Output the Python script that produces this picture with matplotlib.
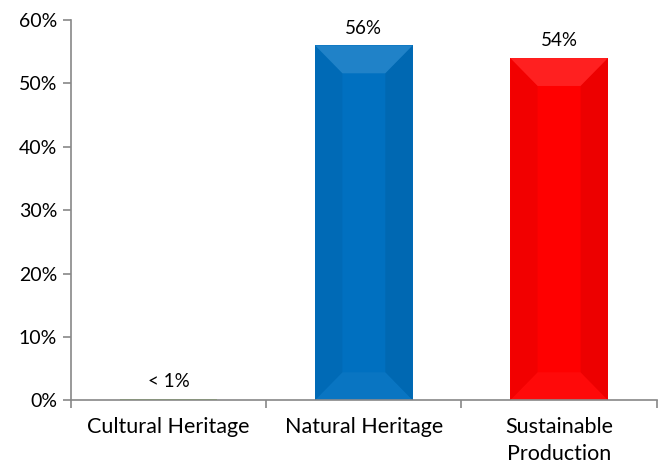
import matplotlib.pyplot as plt
from matplotlib.patches import Polygon
from matplotlib.ticker import FuncFormatter

# ==== data ====
categories = ["Cultural Heritage", "Natural Heritage", "Sustainable\nProduction"]
values = [0.25, 56, 54]
labels = ["< 1%", "56%", "54%"]
colors = ["#92D050", "#0070C0", "#FF0000"]

plt.rcParams['font.family'] = ['Lato', 'DejaVu Sans']

fig = plt.figure(figsize=(6.64, 4.67), dpi=100)
ax = fig.add_axes([0.107, 0.143, 0.882, 0.814])

x = list(range(len(categories)))
width = 0.5
bars = ax.bar(x, values, width=width, color=colors, zorder=2)

# bevel look: light top, darker sides (kept subtle)
bx, by = 0.14, 4.4
for b in bars:
    x0, y0 = b.get_x(), b.get_y()
    w, h = b.get_width(), b.get_height()
    if h < 2 * by:
        continue
    x1, y1 = x0 + w, y0 + h
    top = [(x0, y1), (x1, y1), (x1 - bx, y1 - by), (x0 + bx, y1 - by)]
    left = [(x0, y0), (x0, y1), (x0 + bx, y1 - by), (x0 + bx, y0 + by)]
    right = [(x1, y0), (x1, y1), (x1 - bx, y1 - by), (x1 - bx, y0 + by)]
    bottom = [(x0, y0), (x1, y0), (x1 - bx, y0 + by), (x0 + bx, y0 + by)]
    ax.add_patch(Polygon(top, closed=True, facecolor="white", alpha=0.13, lw=0, zorder=3))
    ax.add_patch(Polygon(left, closed=True, facecolor="black", alpha=0.05, lw=0, zorder=3))
    ax.add_patch(Polygon(right, closed=True, facecolor="black", alpha=0.07, lw=0, zorder=3))
    ax.add_patch(Polygon(bottom, closed=True, facecolor="white", alpha=0.04, lw=0, zorder=3))

for xi, v, lab in zip(x, values, labels):
    ax.text(xi, v + 1.4, lab, ha="center", va="bottom", fontsize=13.5)

ax.set_xlim(-0.5, len(categories) - 0.5)
ax.set_ylim(0, 60)
ax.set_yticks(range(0, 61, 10))
ax.yaxis.set_major_formatter(FuncFormatter(lambda v, p: f"{v:.0f}%"))
ax.set_xticks(x)
ax.set_xticklabels(categories, fontsize=15.5, linespacing=1.45)
ax.set_xticks([i - 0.5 for i in range(len(categories) + 1)], minor=True)
ax.tick_params(axis="x", which="major", length=0, pad=12)
ax.tick_params(axis="x", which="minor", length=6, color="#888888", width=1.2)
ax.tick_params(axis="y", length=6, color="#888888", width=1.2, labelsize=14, pad=4)

for s in ["top", "right"]:
    ax.spines[s].set_visible(False)
for s in ["left", "bottom"]:
    ax.spines[s].set_color("#888888")
    ax.spines[s].set_linewidth(1.2)

fig.savefig("out.png", dpi=100)
